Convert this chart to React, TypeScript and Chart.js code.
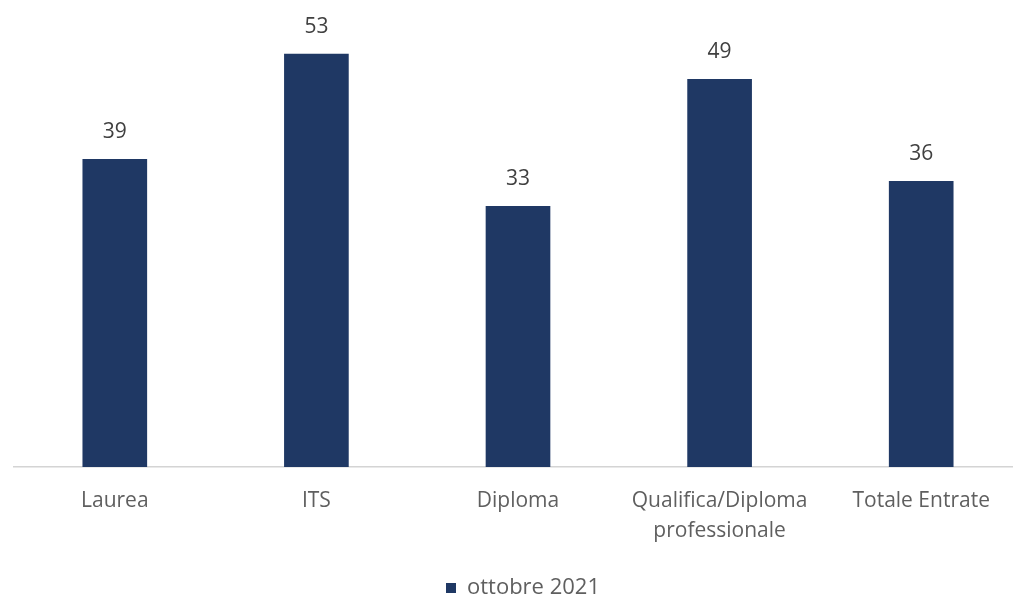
import React, { useEffect, useRef } from "react";
import { Chart, registerables } from "chart.js";

Chart.register(...registerables);

const categories: (string | string[])[] = [
  "Laurea",
  "ITS",
  "Diploma",
  ["Qualifica/Diploma", "professionale"],
  "Totale Entrate",
];
const seriesName = "ottobre 2021";
const values = [39.2, 52.6, 33.2, 49.4, 36.4];

const FONT = "'Open Sans', sans-serif";

const dataLabels = {
  id: "dataLabels",
  afterDatasetsDraw(chart: any) {
    const ctx = chart.ctx;
    const meta = chart.getDatasetMeta(0);
    ctx.save();
    ctx.font = `21px ${FONT}`;
    ctx.fillStyle = "#404040";
    ctx.textAlign = "center";
    ctx.textBaseline = "middle";
    meta.data.forEach((bar: any, i: number) => {
      ctx.fillText(String(Math.round(values[i])), bar.x, bar.y - 27);
    });
    ctx.restore();
  },
};

const legendShift = {
  id: "legendShift",
  afterLayout(chart: any) {
    const lg = chart.legend;
    if (lg) {
      lg.left += 5;
      lg.right += 5;
      lg.top += 2;
      lg.bottom += 2;
    }
  },
};

export default function App() {
  const ref = useRef<HTMLCanvasElement | null>(null);
  useEffect(() => {
    document.body.style.margin = "0";
    const chart = new Chart(ref.current as HTMLCanvasElement, {
      type: "bar",
      data: {
        labels: categories,
        datasets: [
          {
            label: seriesName,
            data: values,
            backgroundColor: "#1f3864",
            borderWidth: 0,
            barThickness: 64,
          },
        ],
      },
      options: {
        animation: false,
        responsive: false,
        layout: { padding: { left: 14, right: 24, top: 0, bottom: 0 } },
        scales: {
          x: {
            grid: { display: false, drawTicks: false },
            border: { display: true, color: "#d4d4d4", width: 1.5 },
            ticks: {
              color: "#5f5f5f",
              padding: 19,
              maxRotation: 0,
              autoSkip: false,
              font: { family: FONT, size: 21, lineHeight: 1.43 },
            },
            afterFit(scale: any) {
              scale.height += 10;
            },
          },
          y: {
            display: false,
            min: 0,
            max: 59.5,
          },
        },
        plugins: {
          legend: {
            position: "bottom",
            labels: {
              boxWidth: 10,
              boxHeight: 10,
              color: "#5f5f5f",
              padding: 0,
              font: { family: FONT, size: 22 },
            },
          },
          tooltip: { enabled: false },
        },
      },
      plugins: [dataLabels, legendShift],
    });
    return () => chart.destroy();
  }, []);
  return (
    <div style={{ position: "absolute", left: 0, top: 0, width: 1013, height: 597, overflow: "hidden", background: "#fff" }}>
      <canvas ref={ref} width={1046} height={607} style={{ display: "block" }} />
    </div>
  );
}
